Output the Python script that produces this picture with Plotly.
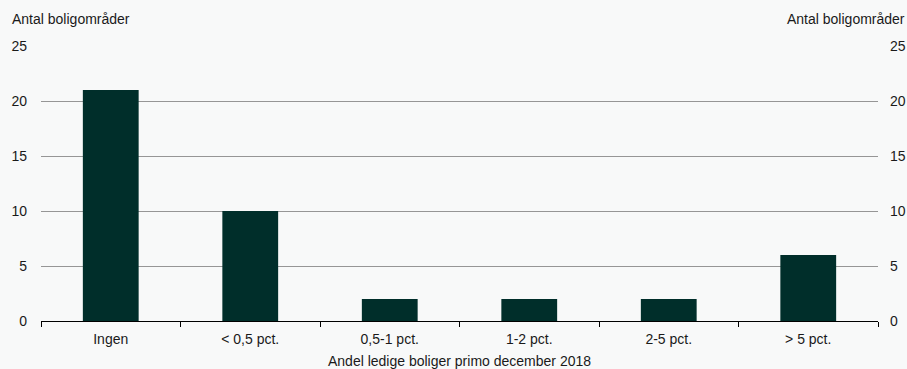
import plotly.graph_objects as go

categories = ["Ingen", "< 0,5 pct.", "0,5-1 pct.", "1-2 pct.", "2-5 pct.", "> 5 pct."]
values = [21, 10, 2, 2, 2, 6]
y_ticks = [0, 5, 10, 15, 20, 25]
y_label = "Antal boligområder"
x_title = "Andel ledige boliger primo december 2018"

FONT = "Liberation Sans, Arial, sans-serif"
BG = "#f8f9f9"
FS = 14

fig = go.Figure()
fig.add_trace(go.Bar(x=categories, y=values, marker_color="#002e2a",
                     marker_line_width=0, width=0.4, showlegend=False))
# invisible trace for right axis
fig.add_trace(go.Scatter(x=categories, y=values, yaxis="y2", mode="markers",
                         marker_opacity=0, showlegend=False, hoverinfo="skip"))

fig.update_layout(
    width=907, height=369,
    margin=dict(l=41, r=29, t=46, b=48, autoexpand=False),
    paper_bgcolor=BG, plot_bgcolor=BG,
    font=dict(family=FONT, size=FS, color="#1a1a1a"),
    bargap=0.6,
    xaxis=dict(
        type="category", tickson="boundaries", ticks="outside", ticklen=5,
        tickcolor="#000", tickwidth=1, showline=True, linecolor="#000", linewidth=1,
        showgrid=False, tickfont=dict(size=FS), automargin=False,
        ticklabelstandoff=5,
        title=dict(text=x_title, font=dict(size=FS), standoff=10),
    ),
    yaxis=dict(
        range=[0, 25], tickvals=y_ticks, showgrid=True, gridcolor="#969696",
        gridwidth=1, zeroline=False, ticks="", ticklabelstandoff=13,
        showline=False, tickfont=dict(size=FS), automargin=False,
    ),
    yaxis2=dict(
        range=[0, 25], tickvals=y_ticks, overlaying="y", side="right",
        showgrid=False, zeroline=False, ticks="", ticklabelstandoff=11,
        tickfont=dict(size=FS), automargin=False,
    ),
    annotations=[
        dict(text=y_label, x=0, xref="paper", xanchor="left", xshift=-31,
             y=1, yref="paper", yanchor="middle", yshift=27, showarrow=False,
             font=dict(size=FS)),
        dict(text=y_label, x=1, xref="paper", xanchor="right", xshift=29,
             y=1, yref="paper", yanchor="middle", yshift=27, showarrow=False,
             font=dict(size=FS)),
    ],
)

fig.write_html("out.html", config={"displayModeBar": False},
               post_script="document.body.style.margin='0';")
